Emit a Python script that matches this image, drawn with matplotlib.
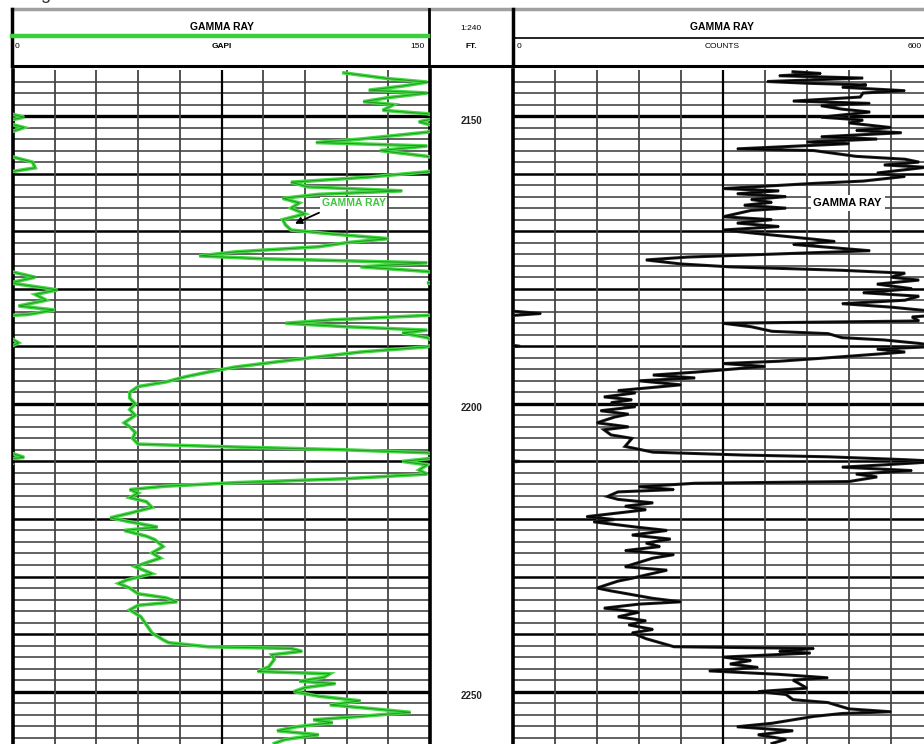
import numpy as np
import matplotlib
matplotlib.use("Agg")
import matplotlib.pyplot as plt

# gamma ray, left track (GAPI, 0-150); values above 150 wrap onto the left edge
gr_depth = [2142.5, 2143.5, 2144.1, 2144.8, 2145.5, 2146.0, 2146.8, 2147.5, 2148.0, 2149.0,
            2149.6, 2150.2, 2151.0, 2152.0, 2152.8, 2154.0, 2154.6, 2155.2, 2156.0, 2157.0,
            2158.0, 2159.0, 2159.7, 2160.6, 2161.5, 2162.3, 2163.0, 2163.6, 2164.3, 2165.1,
            2166.0, 2167.0, 2168.0, 2168.9, 2169.8, 2170.5, 2171.3, 2172.0, 2172.7, 2173.6,
            2174.3, 2174.8, 2175.5, 2176.2, 2177.0, 2178.0, 2179.0, 2180.2, 2181.0, 2182.0,
            2183.0, 2183.7, 2184.5, 2185.4, 2186.0, 2186.6, 2187.2, 2187.7, 2188.5, 2189.4,
            2190.1, 2191.0, 2192.0, 2192.7, 2193.6, 2194.5, 2195.3, 2196.2, 2197.0, 2198.0,
            2199.0, 2200.0, 2201.0, 2202.0, 2203.3, 2204.0, 2205.0, 2206.0, 2207.0, 2207.5,
            2208.0, 2208.5, 2209.3, 2210.0, 2210.6, 2211.5, 2212.2, 2213.0, 2213.7, 2214.3,
            2214.9, 2215.5, 2216.3, 2217.0, 2218.0, 2219.0, 2219.8, 2220.5, 2221.4, 2222.0,
            2223.0, 2223.6, 2224.8, 2225.9, 2226.8, 2227.6, 2228.3, 2229.5, 2230.6, 2231.2,
            2232.0, 2233.0, 2233.7, 2234.4, 2235.0, 2235.8, 2237.0, 2238.4, 2239.8, 2241.0,
            2241.5, 2242.2, 2242.5, 2243.0, 2243.6, 2244.4, 2245.7, 2246.5, 2246.9, 2247.5,
            2248.2, 2248.6, 2249.3, 2250.0, 2250.8, 2251.6, 2252.3, 2253.0, 2253.6, 2254.3,
            2254.9, 2255.4, 2256.1, 2256.8, 2257.5, 2258.3, 2259.0]
gr_api = [119, 135, 149, 140, 128, 149, 135, 126, 137, 133,
          149, 154, 146, 154, 149, 125, 109, 149, 132, 149,
          157, 158, 149, 128, 100, 106, 140, 110, 97, 103,
          100, 105, 97, 98, 100, 115, 135, 120, 110, 80,
          67, 90, 149, 125, 149, 158, 149, 166, 158, 162,
          152, 165, 155, 115, 98, 120, 149, 140, 149, 152,
          149, 125, 107, 95, 80, 70, 62, 55, 45, 42,
          42, 44, 42, 44, 40, 42, 44, 43, 45, 80,
          120, 149, 154, 140, 149, 146, 149, 120, 80, 55,
          42, 45, 42, 48, 50, 42, 35, 42, 52, 40,
          48, 51, 54, 50, 53, 48, 44, 50, 41, 38,
          42, 45, 55, 59, 45, 42, 46, 48, 50, 54,
          56, 70, 100, 104, 93, 94, 92, 88, 114, 112,
          103, 116, 105, 101, 110, 125, 114, 130, 143, 125,
          108, 115, 102, 95, 110, 98, 94]

# gamma ray, right track (COUNTS, 0-600)
cnt_depth = [2142.3, 2142.6, 2143.0, 2143.4, 2144.0, 2144.3, 2144.6, 2145.0, 2145.6, 2146.0,
             2146.7, 2147.4, 2147.8, 2148.2, 2148.8, 2149.3, 2150.2, 2150.7, 2151.2, 2152.0,
             2152.5, 2152.9, 2153.6, 2154.0, 2154.5, 2154.8, 2155.7, 2156.0, 2157.0, 2157.5,
             2158.0, 2158.5, 2158.9, 2159.9, 2160.5, 2161.3, 2161.7, 2162.6, 2163.0, 2163.5,
             2164.0, 2164.5, 2165.0, 2165.5, 2166.0, 2166.4, 2167.5, 2168.0, 2168.6, 2169.2,
             2169.8, 2170.3, 2171.4, 2171.8, 2172.3, 2172.7, 2173.4, 2173.7, 2174.5, 2175.0,
             2175.7, 2176.2, 2176.8, 2177.3, 2178.0, 2178.5, 2179.2, 2180.0, 2180.7, 2181.3,
             2182.0, 2182.6, 2183.2, 2183.8, 2184.3, 2184.9, 2185.6, 2186.0, 2186.6, 2187.4,
             2187.8, 2188.5, 2188.9, 2189.5, 2190.0, 2190.5, 2191.0, 2192.0, 2192.6, 2193.0,
             2193.5, 2194.5, 2195.0, 2195.5, 2196.0, 2196.7, 2197.7, 2198.1, 2198.8, 2199.3,
             2199.8, 2200.5, 2201.2, 2201.8, 2202.3, 2203.3, 2204.0, 2204.5, 2205.4, 2206.0,
             2207.4, 2208.4, 2208.9, 2209.2, 2209.7, 2210.0, 2210.6, 2211.0, 2211.6, 2212.2,
             2212.7, 2213.5, 2213.8, 2214.4, 2214.9, 2215.3, 2216.1, 2216.6, 2217.2, 2217.8,
             2218.4, 2219.6, 2220.1, 2220.5, 2221.4, 2222.0, 2222.8, 2223.5, 2224.2, 2224.8,
             2225.5, 2226.2, 2226.8, 2228.3, 2228.9, 2230.3, 2230.8, 2232.0, 2232.5, 2233.8,
             2234.4, 2234.8, 2235.5, 2236.2, 2237.0, 2237.7, 2238.4, 2239.2, 2239.8, 2240.8,
             2242.2, 2242.5, 2243.0, 2243.3, 2244.0, 2244.6, 2245.2, 2245.8, 2246.4, 2247.0,
             2247.6, 2248.0, 2249.4, 2250.0, 2250.5, 2251.4, 2251.9, 2253.0, 2253.5, 2253.8,
             2254.3, 2255.5, 2256.1, 2256.8, 2257.5, 2258.3, 2259.0]
cnt = [400, 440, 380, 500, 363, 420, 505, 470, 560, 500,
       496, 400, 510, 440, 470, 510, 440, 500, 480, 540,
       490, 555, 440, 520, 420, 480, 320, 430, 490, 560,
       580, 530, 590, 520, 560, 500, 430, 300, 380, 320,
       390, 340, 370, 330, 390, 340, 300, 370, 320, 380,
       300, 340, 430, 460, 400, 440, 510, 440, 250, 190,
       240, 310, 470, 560, 540, 580, 520, 570, 500, 580,
       560, 470, 540, 590, 640, 570, 580, 300, 340, 370,
       450, 470, 530, 580, 610, 520, 560, 450, 380, 300,
       360, 260, 200, 260, 180, 240, 150, 175, 130, 170,
       140, 175, 125, 165, 145, 120, 165, 130, 140, 170,
       160, 200, 330, 450, 560, 610, 530, 470, 570, 490,
       520, 480, 260, 180, 230, 150, 135, 150, 200, 160,
       190, 105, 145, 115, 175, 220, 170, 225, 190, 210,
       160, 230, 200, 160, 220, 170, 150, 120, 140, 200,
       240, 180, 130, 180, 150, 190, 165, 200, 170, 190,
       230, 430, 380, 425, 300, 340, 310, 350, 280, 380,
       450, 400, 420, 350, 390, 400, 450, 480, 540, 470,
       430, 370, 320, 400, 350, 390, 370]

depth_labels = [2150, 2200, 2250]

gr = np.array(gr_api, dtype=float)
ct = np.array(cnt, dtype=float)

W, H = 924, 744
fig = plt.figure(figsize=(W / 100, H / 100), dpi=100)
plt.rcParams['font.family'] = ['Liberation Sans', 'DejaVu Sans']

top_px = 70
d_top = 2142.0
d_bot = 2259.1


def px_axes(x0, x1):
    return [x0 / W, 0, (x1 - x0) / W, (H - top_px) / H]


ax_l = fig.add_axes(px_axes(13, 430))
ax_d = fig.add_axes(px_axes(430, 513))
ax_r = fig.add_axes(px_axes(513, 933))


def log_grid(ax, xmax):
    ax.set_xlim(0, xmax)
    ax.set_ylim(d_bot, d_top)
    ax.set_xticks([])
    ax.set_yticks([])
    for d in np.arange(2144, 2260, 2):
        if d % 50 == 0:
            ax.axhline(d, color='black', lw=2.4, zorder=1)
        elif d % 10 == 0:
            ax.axhline(d, color='black', lw=1.8, zorder=1)
        else:
            ax.axhline(d, color='#555555', lw=1.3, zorder=1)
    for i, x in enumerate(np.linspace(0, xmax, 11)[1:-1]):
        if i == 4:
            ax.axvline(x, color='black', lw=1.6, zorder=1)
        else:
            ax.axvline(x, color='#444444', lw=1.3, zorder=1)
    for s in ['top', 'bottom']:
        ax.spines[s].set_visible(False)
    for s in ['left', 'right']:
        ax.spines[s].set_linewidth(2.6)
        ax.spines[s].set_color('black')


log_grid(ax_l, 150)
log_grid(ax_r, 600)

# green gamma ray + wrap-around backup trace
for xs in (gr, gr - 150):
    ax_l.plot(xs, gr_depth, color='#45d845', lw=2.6, zorder=3, solid_joinstyle='miter')
    ax_l.plot(xs, gr_depth, color='#1f9a1f', lw=0.7, zorder=4)

for xs in (ct, ct - 600):
    ax_r.plot(xs, cnt_depth, color='#222222', lw=2.2, zorder=3, solid_joinstyle='miter')
    ax_r.plot(xs, cnt_depth, color='black', lw=0.9, zorder=4)

ax_l.text(111, 2165.1, 'GAMMA RAY', color='#3cc83c', fontsize=7.5, fontweight='bold',
          ha='left', va='center', zorder=5,
          bbox=dict(facecolor='white', edgecolor='none', pad=1))
ax_l.annotate('', xy=(100.5, 2168.9), xytext=(111, 2166.6), zorder=6,
              arrowprops=dict(arrowstyle='-|>', color='black', lw=1.3, mutation_scale=10))
ax_r.text(478, 2165.1, 'GAMMA RAY', color='black', fontsize=8, fontweight='bold',
          ha='center', va='center', zorder=5,
          bbox=dict(facecolor='white', edgecolor='none', pad=2))

# depth column
ax_d.set_xlim(0, 1)
ax_d.set_ylim(d_bot, d_top)
ax_d.axis('off')
for d in depth_labels:
    ax_d.text(0.5, d + 0.8, str(d), ha='center', va='center', fontsize=7, fontweight='bold',
              color='#222222')

# header block, drawn in pixel space
hd = fig.add_axes([0, 0, 1, 1], zorder=-1)
hd.set_xlim(0, W)
hd.set_ylim(H, 0)
hd.axis('off')
hd.plot([12, W], [9, 9], color='#a0a0a0', lw=2.5)
hd.plot([12, W], [66, 66], color='black', lw=2.2)
hd.plot([12, 12], [9, 66], color='black', lw=2.5)
hd.plot([429, 429], [9, 66], color='black', lw=2)
hd.plot([513, 513], [9, 66], color='black', lw=2.5)
hd.plot([12, 428], [35.5, 35.5], color='#3ccf3c', lw=3.2)
hd.plot([513, W], [38, 38], color='black', lw=1.2)

hd.text(222, 27, 'GAMMA RAY', ha='center', va='center', fontsize=7.5, fontweight='bold')
hd.text(15, 46, '0', ha='left', va='center', fontsize=6)
hd.text(222, 46, 'GAPI', ha='center', va='center', fontsize=6, fontweight='bold')
hd.text(425, 46, '150', ha='right', va='center', fontsize=6)
hd.text(471, 28, '1:240', ha='center', va='center', fontsize=6)
hd.text(471, 47, 'FT.', ha='center', va='center', fontsize=6, fontweight='bold')
hd.text(722, 27, 'GAMMA RAY', ha='center', va='center', fontsize=7.5, fontweight='bold')
hd.text(517, 46, '0', ha='left', va='center', fontsize=6)
hd.text(722, 46, 'COUNTS', ha='center', va='center', fontsize=6)
hd.text(922, 46, '600', ha='right', va='center', fontsize=6)
hd.text(45, -1, 'g', ha='center', va='baseline', fontsize=13, color='#333333')

fig.savefig('out.png', dpi=100)
